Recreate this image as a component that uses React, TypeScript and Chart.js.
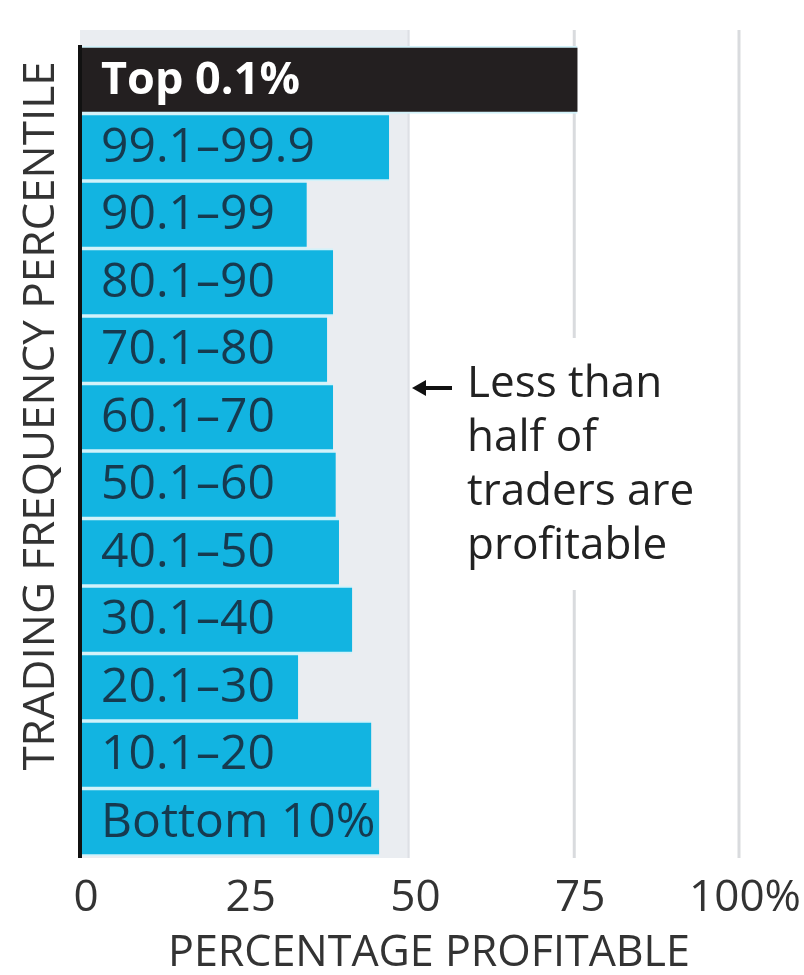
import React, { useEffect, useRef } from "react";
import { Chart, registerables } from "chart.js";

Chart.register(...registerables);

const categories = [
  "Top 0.1%",
  "99.1–99.9",
  "90.1–99",
  "80.1–90",
  "70.1–80",
  "60.1–70",
  "50.1–60",
  "40.1–50",
  "30.1–40",
  "20.1–30",
  "10.1–20",
  "Bottom 10%",
];
const percentProfitable = [75.5, 46.9, 34.4, 38.4, 37.5, 38.4, 38.8, 39.3, 41.3, 33.1, 44.2, 45.4];
const xTicks = [0, 25, 50, 75, 100];
const shadedUpTo = 50;
const gridValues = [75, 100];
const yTitle = "TRADING FREQUENCY PERCENTILE";
const xTitle = "PERCENTAGE PROFITABLE";
const noteLines = ["Less than", "half of", "traders are", "profitable"];

const FONT = '"Open Sans", "Noto Sans", sans-serif';
const CYAN = "#12b4e1";
const BLACK = "#231f20";

const decorPlugin = {
  id: "decor",
  beforeDraw(chart: any) {
    const { ctx, chartArea } = chart;
    const x = chart.scales.x;
    const top = chartArea.top - 16;
    const bottom = chartArea.bottom + 2;
    ctx.save();
    const x0 = x.getPixelForValue(0);
    const x50 = x.getPixelForValue(shadedUpTo);
    ctx.fillStyle = "#eaedf1";
    ctx.fillRect(x0, top, x50 - x0, bottom - top);
    ctx.fillStyle = "#dde0e5";
    ctx.fillRect(x50 - 2, top, 2, bottom - top);
    ctx.strokeStyle = "#d9dbde";
    ctx.lineWidth = 3;
    for (const v of gridValues) {
      const px = x.getPixelForValue(v);
      ctx.beginPath();
      ctx.moveTo(px, top);
      ctx.lineTo(px, bottom);
      ctx.stroke();
    }
    ctx.fillStyle = "#ffffff";
    ctx.fillRect(x50 + 2, 338, 310, 252);
    ctx.restore();
  },
  afterDraw(chart: any) {
    const { ctx, chartArea } = chart;
    const x = chart.scales.x;
    const meta = chart.getDatasetMeta(0);
    ctx.save();
    const x0 = x.getPixelForValue(0);
    ctx.fillStyle = "#111111";
    ctx.fillRect(x0 - 2, chartArea.top - 1, 4, chartArea.bottom - chartArea.top + 3);
    ctx.textBaseline = "middle";
    ctx.textAlign = "left";
    meta.data.forEach((bar: any, i: number) => {
      if (i === 0) {
        ctx.font = `bold 45px ${FONT}`;
        ctx.fillStyle = "#ffffff";
      } else {
        ctx.font = `48px ${FONT}`;
        ctx.fillStyle = "#163a4f";
      }
      ctx.fillText(categories[i], 101, bar.y + 1);
    });
    ctx.save();
    ctx.translate(41, 416);
    ctx.rotate(-Math.PI / 2);
    ctx.font = `44px ${FONT}`;
    ctx.fillStyle = "#333333";
    ctx.textAlign = "center";
    ctx.textBaseline = "middle";
    ctx.fillText(yTitle, 0, 0);
    ctx.restore();
    ctx.font = `43px ${FONT}`;
    ctx.fillStyle = "#333333";
    ctx.textAlign = "center";
    ctx.textBaseline = "middle";
    ctx.fillText(xTitle, 429, 954);
    const ay = 388;
    ctx.strokeStyle = "#111111";
    ctx.fillStyle = "#111111";
    ctx.lineWidth = 4;
    ctx.beginPath();
    ctx.moveTo(423, ay);
    ctx.lineTo(452, ay);
    ctx.stroke();
    ctx.beginPath();
    ctx.moveTo(412, ay);
    ctx.lineTo(426, ay - 8);
    ctx.lineTo(426, ay + 8);
    ctx.closePath();
    ctx.fill();
    ctx.font = `44px ${FONT}`;
    ctx.fillStyle = "#222222";
    ctx.textAlign = "left";
    ctx.textBaseline = "middle";
    noteLines.forEach((t, i) => ctx.fillText(t, 467, 384 + i * 54));
    ctx.restore();
  },
};

export default function App() {
  const ref = useRef<HTMLCanvasElement>(null);
  useEffect(() => {
    if (!ref.current) return;
    const chart = new Chart(ref.current, {
      type: "bar",
      data: {
        labels: categories,
        datasets: [
          {
            data: percentProfitable,
            backgroundColor: percentProfitable.map((_, i) => (i === 0 ? BLACK : CYAN)),
            borderColor: "#d2f2fa",
            borderWidth: { top: 2, bottom: 2, left: 0, right: 0 },
            borderSkipped: false,
            barPercentage: 1,
            categoryPercentage: 1,
          },
        ],
      },
      options: {
        indexAxis: "y",
        animation: false,
        responsive: false,
        layout: { padding: { top: 46, right: 65, left: 0, bottom: 0 } },
        plugins: { legend: { display: false }, tooltip: { enabled: false } },
        scales: {
          x: {
            type: "linear",
            min: 0,
            max: 100,
            afterBuildTicks: (scale: any) => {
              scale.ticks = xTicks.map((v) => ({ value: v }));
            },
            afterFit: (scale: any) => {
              scale.height = 119;
              scale.paddingLeft = 0;
              scale.paddingRight = 0;
            },
            grid: { display: false, drawTicks: false },
            border: { display: false },
            ticks: {
              padding: 16,
              labelOffset: 6,
              color: "#333333",
              font: { family: FONT, size: 44 },
              maxRotation: 0,
              callback: (v: any) => (v === 100 ? "100%" : String(v)),
            },
          },
          y: {
            type: "category",
            afterFit: (scale: any) => {
              scale.width = 80;
              scale.paddingTop = 0;
              scale.paddingBottom = 0;
            },
            grid: { display: false, drawTicks: false },
            border: { display: false },
            ticks: { display: false },
          },
        },
      },
      plugins: [decorPlugin],
    } as any);
    return () => chart.destroy();
  }, []);
  return (
    <div style={{ position: "absolute", left: 0, top: 0, width: 804, height: 975, background: "#fff" }}>
      <canvas ref={ref} width={804} height={975} style={{ display: "block", width: 804, height: 975 }} />
    </div>
  );
}
